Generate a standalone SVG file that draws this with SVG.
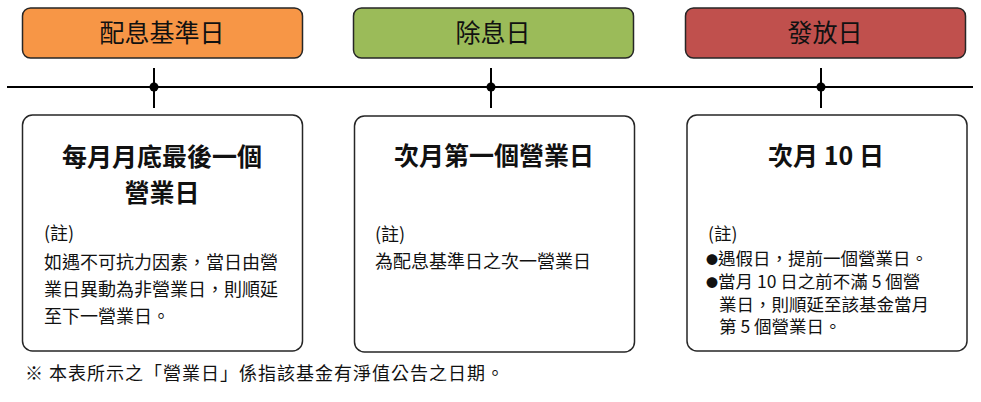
<svg xmlns="http://www.w3.org/2000/svg" width="981" height="402" viewBox="0 0 981 402">
<style>
text{font-family:"Noto Sans CJK TC","Noto Sans CJK SC",sans-serif;fill:#111}
.hdr{stroke:#262626;stroke-width:1.5}
.card{fill:#fff;stroke:#262626;stroke-width:1.5}
.lbl{font-size:25px;text-anchor:middle}
.ttl{font-size:25px;font-weight:bold;text-anchor:middle}
.body{font-size:18px}
.sm{font-size:17.5px}
.bul{font-size:12px}
.foot{font-size:18px;letter-spacing:1px}
.ln{stroke:#000;stroke-width:2;fill:none}
</style>
<g id="connectors">
<line class="ln" x1="7" y1="87" x2="973" y2="87"/>
<line class="ln" x1="154" y1="68" x2="154" y2="108"/>
<line class="ln" x1="491" y1="68" x2="491" y2="108"/>
<line class="ln" x1="821" y1="68" x2="821" y2="108"/>
<circle cx="154" cy="87" r="4.5"/>
<circle cx="491" cy="87" r="4.5"/>
<circle cx="821" cy="87" r="4.5"/>
</g>
<g id="hdr1"><rect class="hdr" x="22.5" y="8" width="280" height="50" rx="8" fill="#F79646"/><text class="lbl" x="162" y="42">配息基準日</text></g>
<g id="hdr2"><rect class="hdr" x="353.5" y="8" width="280" height="50" rx="8" fill="#9BBB59"/><text class="lbl" x="493" y="42">除息日</text></g>
<g id="hdr3"><rect class="hdr" x="685.5" y="8" width="280" height="50" rx="8" fill="#C0504D"/><text class="lbl" x="825" y="42">發放日</text></g>
<g id="card1"><rect class="card" x="22.5" y="115" width="280" height="236" rx="10"/>
<text class="ttl" x="162" y="166">每月月底最後一個</text>
<text class="ttl" x="162" y="202">營業日</text>
<text class="body" x="44" y="240">(註)</text>
<text class="body" x="44" y="269">如遇不可抗力因素，當日由營</text>
<text class="body" x="44" y="296">業日異動為非營業日，則順延</text>
<text class="body" x="44" y="323">至下一營業日。</text>
</g>
<g id="card2"><rect class="card" x="354.5" y="116" width="280" height="236" rx="10"/>
<text class="ttl" x="494" y="165">次月第一個營業日</text>
<text class="body" x="375" y="241">(註)</text>
<text class="body" x="375" y="268">為配息基準日之次一營業日</text>
</g>
<g id="card3"><rect class="card" x="687" y="115" width="280" height="236" rx="10"/>
<text class="ttl" x="826" y="165">次月 10 日</text>
<text class="sm" x="708" y="240">(註)</text>
<text class="sm" x="706" y="265"><tspan class="bul">●</tspan>遇假日，提前一個營業日。</text>
<text class="sm" x="706" y="288" xml:space="preserve"><tspan class="bul">●</tspan>當月 10 日之前不滿 5 個營</text>
<text class="sm" x="719" y="310.5">業日，則順延至該基金當月</text>
<text class="sm" x="719" y="332.5" xml:space="preserve">第 5 個營業日。</text>
</g>
<text class="foot" x="25" y="380" xml:space="preserve">※ 本表所示之「營業日」係指該基金有淨值公告之日期。</text>
</svg>
